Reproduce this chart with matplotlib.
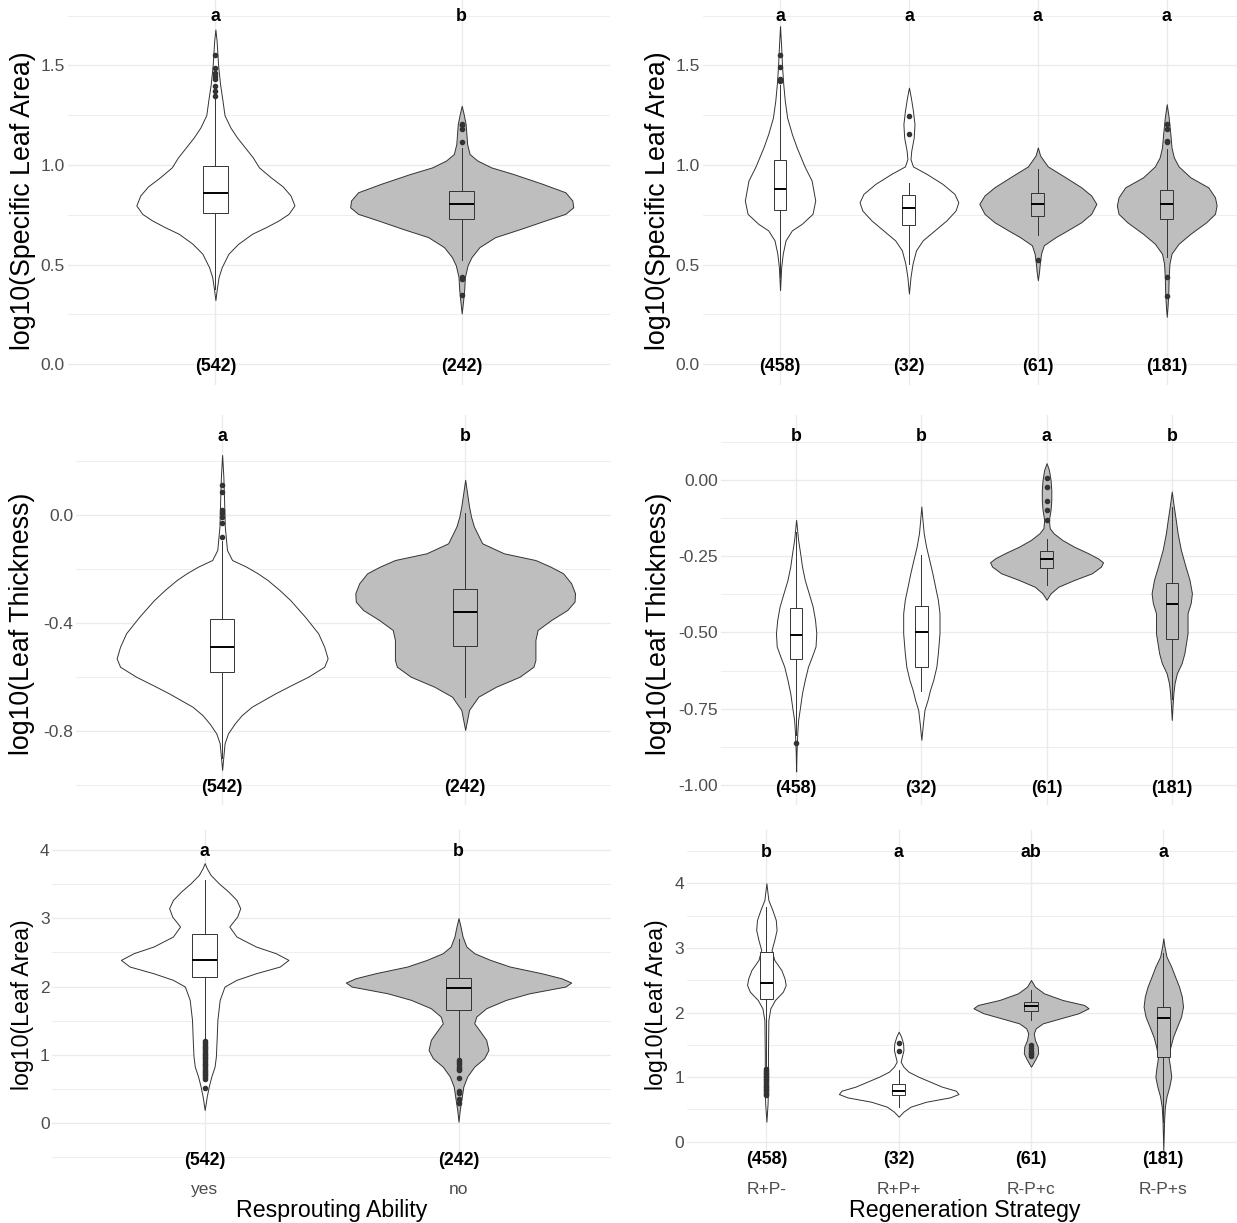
import numpy as np
import matplotlib
matplotlib.use("Agg")
import matplotlib.pyplot as plt

plt.rcParams['font.family'] = ['Liberation Sans', 'DejaVu Sans']

# ---------------- data ----------------
resprout_cats = ['yes', 'no']
regen_cats = ['R+P-', 'R+P+', 'R-P+c', 'R-P+s']
resprout_counts = ['(542)', '(242)']
regen_counts = ['(458)', '(32)', '(61)', '(181)']

# violin outlines: y values and half widths (category units)
# --- log10(Specific Leaf Area) by resprouting
sla_yes_y = [1.68, 1.622, 1.5, 1.405, 1.322, 1.25, 1.188, 1.138, 1.088, 1.038, 0.988, 0.938, 0.893,
             0.847, 0.797, 0.755, 0.722, 0.688, 0.655, 0.605, 0.555, 0.488, 0.438, 0.372, 0.322]
sla_yes_w = [0, 0.005, 0.011, 0.019, 0.029, 0.037, 0.061, 0.088, 0.12, 0.152, 0.177, 0.225, 0.273,
             0.305, 0.321, 0.297, 0.257, 0.205, 0.149, 0.093, 0.053, 0.026, 0.013, 0.005, 0]
sla_no_y = [1.297, 1.255, 1.205, 1.155, 1.105, 1.055, 1.022, 0.988, 0.955, 0.905, 0.863, 0.822,
            0.788, 0.755, 0.722, 0.68, 0.638, 0.588, 0.538, 0.497, 0.438, 0.372, 0.322, 0.255]
sla_no_w = [0, 0.008, 0.016, 0.019, 0.022, 0.032, 0.064, 0.12, 0.209, 0.329, 0.421, 0.449,
            0.453, 0.421, 0.34, 0.241, 0.136, 0.072, 0.04, 0.024, 0.013, 0.01, 0.006, 0]
sla_rs_q1 = [0.76, 0.73]
sla_rs_med = [0.858, 0.802]
sla_rs_q3 = [0.993, 0.872]
sla_rs_lo = [0.38, 0.522]
sla_rs_hi = [1.33, 1.085]
sla_yes_out = [1.347, 1.372, 1.397, 1.43, 1.447, 1.463, 1.488, 1.55]
sla_no_out = [1.113, 1.18, 1.2, 1.205, 0.438, 0.43, 0.347]

# --- log10(Specific Leaf Area) by regeneration strategy
sla_rpm_y = [1.697, 1.588, 1.5, 1.405, 1.322, 1.238, 1.155, 1.088, 0.993, 0.922, 0.822, 0.755,
             0.705, 0.672, 0.622, 0.555, 0.488, 0.372]
sla_rpm_w = [0, 0.009, 0.015, 0.025, 0.037, 0.055, 0.092, 0.129, 0.19, 0.245, 0.273, 0.252,
             0.169, 0.092, 0.043, 0.021, 0.009, 0]
sla_rpp_y = [1.388, 1.338, 1.272, 1.205, 1.138, 1.072, 1.03, 0.993, 0.955, 0.905, 0.855, 0.813,
             0.772, 0.722, 0.672, 0.622, 0.572, 0.505, 0.438, 0.355]
sla_rpp_w = [0, 0.015, 0.031, 0.043, 0.037, 0.018, 0.012, 0.031, 0.138, 0.261, 0.353, 0.383,
             0.362, 0.291, 0.199, 0.107, 0.055, 0.028, 0.012, 0]
sla_rpc_y = [1.088, 1.047, 0.993, 0.938, 0.888, 0.847, 0.805, 0.755, 0.713, 0.672, 0.638, 0.597,
             0.555, 0.505, 0.463, 0.422]
sla_rpc_w = [0, 0.018, 0.077, 0.215, 0.337, 0.414, 0.454, 0.414, 0.337, 0.23, 0.138, 0.046,
             0.025, 0.015, 0.009, 0]
sla_rps_y = [1.305, 1.238, 1.155, 1.088, 1.038, 0.993, 0.938, 0.888, 0.838, 0.797, 0.755, 0.713,
             0.655, 0.605, 0.555, 0.505, 0.438, 0.355, 0.288, 0.238]
sla_rps_w = [0, 0.015, 0.028, 0.037, 0.055, 0.092, 0.184, 0.322, 0.374, 0.387, 0.374, 0.307,
             0.184, 0.092, 0.037, 0.021, 0.015, 0.012, 0.006, 0]
sla_rg_q1 = [0.775, 0.697, 0.742, 0.73]
sla_rg_med = [0.88, 0.783, 0.802, 0.802]
sla_rg_q3 = [1.025, 0.847, 0.858, 0.875]
sla_rg_lo = [0.44, 0.505, 0.647, 0.538]
sla_rg_hi = [1.40, 0.908, 0.98, 1.08]
sla_rpm_out = [1.42, 1.43, 1.49, 1.55]
sla_rpp_out = [1.155, 1.245]
sla_rpc_out = [0.522]
sla_rps_out = [1.115, 1.12, 1.18, 1.205, 0.437, 0.345]

# --- log10(Leaf Thickness) by resprouting
lt_yes_y = [0.222, 0.142, 0.056, -0.043, -0.13, -0.167, -0.191, -0.216, -0.241, -0.278, -0.315,
            -0.377, -0.438, -0.488, -0.531, -0.562, -0.599, -0.63, -0.66, -0.685, -0.71, -0.741,
            -0.772, -0.809, -0.846, -0.895, -0.944]
lt_yes_w = [0, 0.005, 0.008, 0.011, 0.02, 0.041, 0.098, 0.146, 0.187, 0.236, 0.28,
            0.341, 0.395, 0.42, 0.434, 0.42, 0.354, 0.285, 0.22, 0.171, 0.122, 0.081,
            0.052, 0.024, 0.01, 0.005, 0]
lt_no_y = [0.13, 0.08, 0.031, -0.006, -0.043, -0.105, -0.142, -0.167, -0.191, -0.216, -0.253,
           -0.29, -0.321, -0.352, -0.389, -0.426, -0.463, -0.537, -0.562, -0.599, -0.636, -0.673,
           -0.722, -0.759, -0.796]
lt_no_w = [0, 0.008, 0.016, 0.024, 0.036, 0.07, 0.159, 0.289, 0.35, 0.403, 0.436,
           0.452, 0.45, 0.42, 0.354, 0.298, 0.289, 0.289, 0.281, 0.224, 0.127, 0.054,
           0.016, 0.008, 0]
lt_rs_q1 = [-0.583, -0.484]
lt_rs_med = [-0.488, -0.359]
lt_rs_q3 = [-0.385, -0.275]
lt_rs_lo = [-0.90, -0.673]
lt_rs_hi = [-0.095, 0.006]
lt_yes_out = [-0.08, -0.031, -0.006, 0.006, 0.019, 0.086, 0.111]
lt_no_out = []

# --- log10(Leaf Thickness) by regeneration strategy
lt_rpm_y = [-0.131, -0.197, -0.24, -0.284, -0.328, -0.372, -0.415, -0.459, -0.503, -0.546, -0.579,
            -0.612, -0.656, -0.699, -0.743, -0.787, -0.831, -0.896, -0.956]
lt_rpm_w = [0, 0.016, 0.032, 0.047, 0.069, 0.101, 0.132, 0.151, 0.161, 0.155, 0.126,
            0.095, 0.069, 0.047, 0.032, 0.016, 0.009, 0.003, 0]
lt_rpp_y = [-0.087, -0.131, -0.175, -0.219, -0.262, -0.306, -0.35, -0.393, -0.437, -0.503, -0.568,
            -0.612, -0.656, -0.689, -0.721, -0.754, -0.798, -0.852]
lt_rpp_w = [0, 0.009, 0.019, 0.038, 0.063, 0.088, 0.11, 0.132, 0.145, 0.145, 0.132,
            0.12, 0.095, 0.069, 0.05, 0.025, 0.013, 0]
lt_rpc_y = [0.055, 0.033, 0.0, -0.033, -0.066, -0.098, -0.131, -0.158, -0.175, -0.197, -0.219,
            -0.24, -0.257, -0.27, -0.284, -0.306, -0.328, -0.35, -0.372, -0.393]
lt_rpc_w = [0, 0.019, 0.032, 0.038, 0.038, 0.032, 0.019, 0.025, 0.057, 0.126, 0.221,
            0.331, 0.41, 0.451, 0.435, 0.363, 0.221, 0.095, 0.032, 0]
lt_rps_y = [-0.038, -0.087, -0.131, -0.175, -0.23, -0.284, -0.328, -0.372, -0.404, -0.437, -0.503,
            -0.568, -0.601, -0.634, -0.667, -0.699, -0.743, -0.787]
lt_rps_w = [0, 0.016, 0.032, 0.047, 0.073, 0.11, 0.142, 0.161, 0.151, 0.126, 0.126,
            0.101, 0.079, 0.041, 0.022, 0.013, 0.006, 0]
lt_rg_q1 = [-0.587, -0.615, -0.29, -0.522]
lt_rg_med = [-0.51, -0.5, -0.259, -0.407]
lt_rg_q3 = [-0.419, -0.415, -0.233, -0.339]
lt_rg_lo = [-0.837, -0.692, -0.344, -0.72]
lt_rg_hi = [-0.17, -0.246, -0.195, -0.09]
lt_rpm_out = [-0.863]
lt_rpp_out = []
lt_rpc_out = [0.005, -0.022, -0.07, -0.10, -0.13]
lt_rps_out = []

# --- log10(Leaf Area) by resprouting
la_yes_y = [3.805, 3.732, 3.634, 3.512, 3.39, 3.268, 3.146, 3.024, 2.878, 2.732, 2.585, 2.488,
            2.39, 2.293, 2.195, 2.098, 2.0, 1.805, 1.512, 1.22, 0.976, 0.829, 0.683, 0.537,
            0.39, 0.195]
la_yes_w = [0, 0.008, 0.023, 0.055, 0.093, 0.125, 0.14, 0.128, 0.097, 0.125, 0.202, 0.28,
            0.33, 0.296, 0.202, 0.125, 0.078, 0.059, 0.05, 0.047, 0.044, 0.039, 0.026, 0.016,
            0.008, 0]
la_no_y = [3.0, 2.878, 2.732, 2.585, 2.488, 2.39, 2.293, 2.195, 2.122, 2.059, 2.0, 1.902, 1.805,
           1.683, 1.561, 1.463, 1.341, 1.22, 1.073, 0.951, 0.829, 0.683, 0.537, 0.341, 0.195,
           0.024]
la_no_w = [0, 0.008, 0.016, 0.031, 0.062, 0.125, 0.202, 0.327, 0.405, 0.444, 0.421, 0.28, 0.187,
           0.109, 0.07, 0.062, 0.086, 0.109, 0.118, 0.101, 0.062, 0.034, 0.019, 0.011, 0.005,
           0]
la_rs_q1 = [2.146, 1.66]
la_rs_med = [2.39, 1.985]
la_rs_q3 = [2.766, 2.13]
la_rs_lo = [1.216, 0.96]
la_rs_hi = [3.56, 2.7]
la_yes_out = [1.2, 1.18, 1.15, 1.12, 1.1, 1.07, 1.05, 1.02, 1.0, 0.97, 0.95, 0.92, 0.9, 0.87,
              0.85, 0.82, 0.8, 0.77, 0.75, 0.72, 0.7, 0.67, 0.65, 0.51]
la_no_out = [0.93, 0.9, 0.86, 0.82, 0.8, 0.78, 0.66, 0.47, 0.45, 0.35, 0.3]

# --- log10(Leaf Area) by regeneration strategy
la_rpm_y = [4.0, 3.742, 3.587, 3.432, 3.277, 3.123, 2.968, 2.813, 2.658, 2.529, 2.426, 2.323,
            2.194, 2.065, 1.884, 1.368, 0.852, 0.594, 0.31]
la_rpm_w = [0, 0.015, 0.045, 0.071, 0.077, 0.06, 0.039, 0.06, 0.113, 0.137, 0.146, 0.125,
            0.065, 0.03, 0.015, 0.012, 0.012, 0.009, 0]
la_rpp_y = [1.703, 1.626, 1.523, 1.419, 1.316, 1.239, 1.161, 1.084, 1.006, 0.929, 0.852, 0.79,
            0.738, 0.686, 0.619, 0.542, 0.465, 0.387]
la_rpp_w = [0, 0.018, 0.033, 0.036, 0.024, 0.015, 0.036, 0.074, 0.149, 0.238, 0.327, 0.432,
            0.452, 0.387, 0.208, 0.089, 0.036, 0]
la_rpc_y = [2.503, 2.4, 2.297, 2.194, 2.116, 2.065, 1.987, 1.91, 1.832, 1.755, 1.677, 1.574,
            1.471, 1.368, 1.29, 1.213, 1.161]
la_rpc_w = [0, 0.03, 0.098, 0.238, 0.402, 0.435, 0.357, 0.223, 0.089, 0.036, 0.021, 0.03,
            0.051, 0.054, 0.036, 0.015, 0]
la_rps_y = [3.148, 3.019, 2.865, 2.71, 2.555, 2.4, 2.245, 2.09, 1.935, 1.781, 1.626, 1.471,
            1.316, 1.161, 1.006, 0.852, 0.697, 0.542, 0.335, -0.129]
la_rps_w = [0, 0.009, 0.024, 0.06, 0.089, 0.119, 0.14, 0.149, 0.134, 0.104, 0.074, 0.054,
            0.039, 0.051, 0.06, 0.045, 0.024, 0.012, 0.006, 0]
la_rg_q1 = [2.21, 0.723, 2.028, 1.316]
la_rg_med = [2.46, 0.79, 2.1, 1.92]
la_rg_q3 = [2.93, 0.888, 2.168, 2.09]
la_rg_lo = [1.135, 0.53, 1.88, 0.3]
la_rg_hi = [3.64, 1.11, 2.35, 2.92]
la_rpm_out = [1.12, 1.1, 1.07, 1.05, 1.02, 1.0, 0.97, 0.95, 0.92, 0.9, 0.87, 0.85, 0.82, 0.8,
              0.77, 0.74, 0.72]
la_rpp_out = [1.4, 1.53]
la_rpc_out = [1.5, 1.45, 1.4, 1.38, 1.35, 1.33]
la_rps_out = []

sla_rs_letters = ['a', 'b']
sla_rg_letters = ['a', 'a', 'a', 'a']
lt_rs_letters = ['a', 'b']
lt_rg_letters = ['b', 'b', 'a', 'b']
la_rs_letters = ['a', 'b']
la_rg_letters = ['b', 'a', 'ab', 'a']

# ---------------- style ----------------
fills = {'yes': 'white', 'no': '#BEBEBE', 'R+P-': 'white', 'R+P+': 'white',
         'R-P+c': '#BEBEBE', 'R-P+s': '#BEBEBE'}
LINE = '#333333'
GRID = '#EBEBEB'
TICK = '#4D4D4D'

W, H = 1237, 1223
fig = plt.figure(figsize=(W / 100, H / 100), dpi=100)


def add_panel(l, t, r, b):
    return fig.add_axes([l / W, 1 - b / H, (r - l) / W, (b - t) / H])


def draw_panel(ax, cats, ys, ws, outs, q1, med, q3, lo, hi, letters, counts,
               letter_y, count_y, xlim, ylim, major, major_lab, minor, show_x):
    pos = np.arange(1, len(cats) + 1)
    for p, c, y, w in zip(pos, cats, ys, ws):
        y = np.array(y)
        w = np.array(w)
        ax.fill_betweenx(y, p - w, p + w, facecolor=fills[c], edgecolor=LINE,
                         linewidth=0.7, zorder=2)
    stats = []
    for i in range(len(cats)):
        stats.append(dict(med=med[i], q1=q1[i], q3=q3[i], whislo=lo[i],
                          whishi=hi[i], fliers=outs[i]))
    bp = ax.bxp(stats, positions=pos, widths=0.1, patch_artist=True,
                showcaps=False, manage_ticks=False, zorder=3,
                boxprops=dict(edgecolor=LINE, linewidth=0.7),
                whiskerprops=dict(color=LINE, linewidth=0.7),
                medianprops=dict(color='black', linewidth=1.4),
                flierprops=dict(marker='o', markersize=3, markerfacecolor=LINE,
                                markeredgecolor=LINE, linestyle='none'))
    for patch, c in zip(bp['boxes'], cats):
        patch.set_facecolor(fills[c])

    for p, s in zip(pos, letters):
        ax.text(p, letter_y, s, ha='center', va='center', fontsize=12.8,
                fontweight='bold', zorder=4)
    for p, s in zip(pos, counts):
        ax.text(p, count_y, s, ha='center', va='center', fontsize=12.8,
                fontweight='bold', zorder=4)

    ax.set_xlim(*xlim)
    ax.set_ylim(*ylim)
    ax.set_yticks(major, major_lab)
    ax.set_yticks(minor, minor=True)
    ax.set_xticks(pos, cats if show_x else [])
    ax.grid(which='major', axis='both', color=GRID, linewidth=1.0, zorder=0)
    ax.grid(which='minor', axis='y', color=GRID, linewidth=0.6, zorder=0)
    ax.set_axisbelow(True)
    ax.tick_params(which='both', length=0, labelsize=12.5, labelcolor=TICK, pad=2)
    ax.tick_params(axis='x', pad=10)
    for sp in ax.spines.values():
        sp.set_visible(False)


# top row
ax = add_panel(67.6, 0, 609.5, 385)
draw_panel(ax, resprout_cats, [sla_yes_y, sla_no_y], [sla_yes_w, sla_no_w],
           [sla_yes_out, sla_no_out], sla_rs_q1, sla_rs_med, sla_rs_q3, sla_rs_lo, sla_rs_hi,
           sla_rs_letters, resprout_counts, 1.745, -0.01,
           (0.4, 2.6), (-0.104, 1.828), [0, 0.5, 1.0, 1.5], ['0.0', '0.5', '1.0', '1.5'],
           [0.25, 0.75, 1.25, 1.75], False)

ax = add_panel(702.7, 0, 1237, 385)
draw_panel(ax, regen_cats, [sla_rpm_y, sla_rpp_y, sla_rpc_y, sla_rps_y],
           [sla_rpm_w, sla_rpp_w, sla_rpc_w, sla_rps_w],
           [sla_rpm_out, sla_rpp_out, sla_rpc_out, sla_rps_out],
           sla_rg_q1, sla_rg_med, sla_rg_q3, sla_rg_lo, sla_rg_hi,
           sla_rg_letters, regen_counts, 1.745, -0.01,
           (0.4, 4.545), (-0.104, 1.828), [0, 0.5, 1.0, 1.5], ['0.0', '0.5', '1.0', '1.5'],
           [0.25, 0.75, 1.25, 1.75], False)

# middle row
ax = add_panel(76.3, 415, 611, 805)
draw_panel(ax, resprout_cats, [lt_yes_y, lt_no_y], [lt_yes_w, lt_no_w],
           [lt_yes_out, lt_no_out], lt_rs_q1, lt_rs_med, lt_rs_q3, lt_rs_lo, lt_rs_hi,
           lt_rs_letters, resprout_counts, 0.289, -1.01,
           (0.4, 2.6), (-1.074, 0.37), [-0.8, -0.4, 0.0], ['-0.8', '-0.4', '0.0'],
           [-1.0, -0.6, -0.2, 0.2], False)

ax = add_panel(721, 415, 1237, 805)
draw_panel(ax, regen_cats, [lt_rpm_y, lt_rpp_y, lt_rpc_y, lt_rps_y],
           [lt_rpm_w, lt_rpp_w, lt_rpc_w, lt_rps_w],
           [lt_rpm_out, lt_rpp_out, lt_rpc_out, lt_rps_out],
           lt_rg_q1, lt_rg_med, lt_rg_q3, lt_rg_lo, lt_rg_hi,
           lt_rg_letters, regen_counts, 0.142, -1.011,
           (0.4, 4.521), (-1.066, 0.213), [-1.0, -0.75, -0.5, -0.25, 0.0],
           ['-1.00', '-0.75', '-0.50', '-0.25', '0.00'],
           [-0.875, -0.625, -0.375, -0.125, 0.125], False)

# bottom row
ax = add_panel(52.4, 830, 610.8, 1168)
draw_panel(ax, resprout_cats, [la_yes_y, la_no_y], [la_yes_w, la_no_w],
           [la_yes_out, la_no_out], la_rs_q1, la_rs_med, la_rs_q3, la_rs_lo, la_rs_hi,
           la_rs_letters, resprout_counts, 3.97, -0.54,
           (0.4, 2.6), (-0.654, 4.29), [0, 1, 2, 3, 4], ['0', '1', '2', '3', '4'],
           [-0.5, 0.5, 1.5, 2.5, 3.5], True)

ax = add_panel(687, 830, 1237, 1168)
draw_panel(ax, regen_cats, [la_rpm_y, la_rpp_y, la_rpc_y, la_rps_y],
           [la_rpm_w, la_rpp_w, la_rpc_w, la_rps_w],
           [la_rpm_out, la_rpp_out, la_rpc_out, la_rps_out],
           la_rg_q1, la_rg_med, la_rg_q3, la_rg_lo, la_rg_hi,
           la_rg_letters, regen_counts, 4.48, -0.28,
           (0.4, 4.557), (-0.407, 4.825), [0, 1, 2, 3, 4], ['0', '1', '2', '3', '4'],
           [0.5, 1.5, 2.5, 3.5, 4.5], True)


# axis titles
def fig_text(x, y, s, size, **kw):
    fig.text(x / W, 1 - y / H, s, ha='center', va='center', fontsize=size, **kw)


fig_text(23, 201, 'log10(Specific Leaf Area)', 19.3, rotation=90)
fig_text(658, 201, 'log10(Specific Leaf Area)', 19.3, rotation=90)
fig_text(22.5, 624, 'log10(Leaf Thickness)', 19.3, rotation=90)
fig_text(659, 624, 'log10(Leaf Thickness)', 19.3, rotation=90)
fig_text(22, 1005, 'log10(Leaf Area)', 16.7, rotation=90)
fig_text(657, 1005, 'log10(Leaf Area)', 16.7, rotation=90)
fig_text(332, 1210, 'Resprouting Ability', 16.7)
fig_text(965, 1210, 'Regeneration Strategy', 16.7)

fig.savefig('out.png', dpi=100, facecolor='white')
